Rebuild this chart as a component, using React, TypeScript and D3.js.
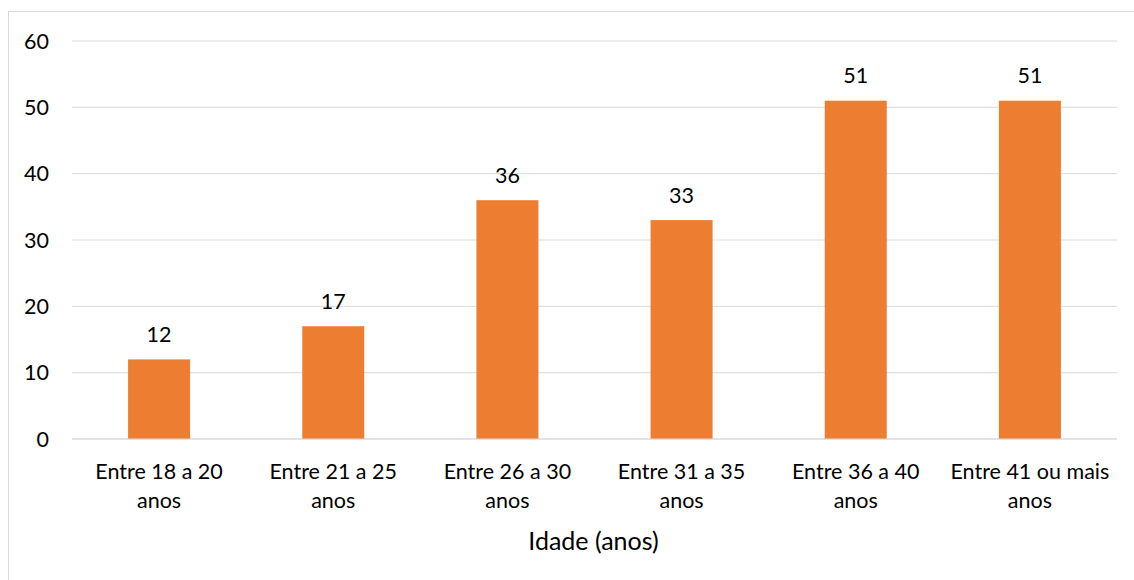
import React from "react";
import * as d3 from "d3";

const categories = [
  ["Entre 18 a 20", "anos"],
  ["Entre 21 a 25", "anos"],
  ["Entre 26 a 30", "anos"],
  ["Entre 31 a 35", "anos"],
  ["Entre 36 a 40", "anos"],
  ["Entre 41 ou mais", "anos"],
];
const values = [12, 17, 36, 33, 51, 51];
const yTicks = [0, 10, 20, 30, 40, 50, 60];
const axisTitle = "Idade (anos)";

const W = 1134;
const H = 580;
const left = 72;
const right = 1117;
const top = 41;
const bottom = 439;
const FONT = "Lato, 'Open Sans', sans-serif";
const FS = 21.5;

export default function App() {
  const keys = categories.map((_, i) => String(i));
  const x = d3.scaleBand().domain(keys).range([left, right]).paddingInner(0.644).paddingOuter(0.322);
  const y = d3.scaleLinear().domain([0, 60]).range([bottom, top]);
  return (
    <svg width={W} height={H} style={{ position: "absolute", left: 0, top: 0 }}>
      <rect x={8.5} y={11.5} width={W + 20} height={H + 20} fill="#fff" stroke="#D9D9D9" strokeWidth={1} />
      {yTicks.map((t) => (
        <g key={t}>
          <line x1={left} x2={right} y1={y(t)} y2={y(t)} stroke="#D9D9D9" strokeWidth={1} />
          <text x={49} y={y(t)} dy="0.35em" textAnchor="end" fontFamily={FONT} fontSize={FS} fill="#000">
            {t}
          </text>
        </g>
      ))}
      {values.map((v, i) => (
        <g key={i}>
          <rect x={x(keys[i])} y={y(v)} width={x.bandwidth()} height={y(0) - y(v)} fill="#ED7D31" />
          <text
            x={(x(keys[i]) as number) + x.bandwidth() / 2}
            y={y(v) - 25}
            dy="0.35em"
            textAnchor="middle"
            fontFamily={FONT}
            fontSize={FS}
            fill="#000"
          >
            {v}
          </text>
        </g>
      ))}
      <line x1={left} x2={right} y1={y(0)} y2={y(0)} stroke="#D9D9D9" strokeWidth={1} />
      {categories.map((lines, i) => (
        <text
          key={i}
          x={(x(keys[i]) as number) + x.bandwidth() / 2}
          textAnchor="middle"
          fontFamily={FONT}
          fontSize={FS}
          fill="#000"
        >
          {lines.map((l, j) => (
            <tspan key={j} x={(x(keys[i]) as number) + x.bandwidth() / 2} y={471 + j * 29} dy="0.35em">
              {l}
            </tspan>
          ))}
        </text>
      ))}
      <text x={(left + right) / 2 - 1} y={541} dy="0.35em" textAnchor="middle" fontFamily={FONT} fontSize={25} fill="#000">
        {axisTitle}
      </text>
    </svg>
  );
}
